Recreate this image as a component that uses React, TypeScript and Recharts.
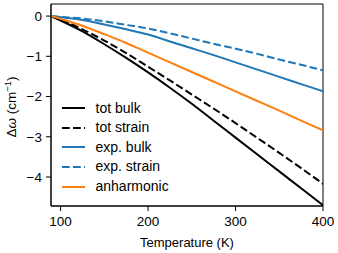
import React from "react";
import {
  Line,
  LineChart,
  ReferenceArea,
  XAxis,
  YAxis,
} from "recharts";

const temperature = [89, 100, 125, 150, 175, 200, 225, 250, 275, 300, 325, 350, 375, 400];
const totBulk = [0, -0.11, -0.38, -0.7, -1.04, -1.4, -1.78, -2.18, -2.6, -3.02, -3.44, -3.86, -4.28, -4.7];
const totStrain = [0, -0.09, -0.33, -0.61, -0.92, -1.26, -1.6, -1.95, -2.3, -2.66, -3.03, -3.4, -3.78, -4.17];
const expBulk = [0, -0.03, -0.1, -0.21, -0.33, -0.46, -0.63, -0.8, -0.97, -1.15, -1.33, -1.51, -1.69, -1.87];
const expStrain = [0, -0.02, -0.06, -0.13, -0.22, -0.31, -0.43, -0.56, -0.69, -0.81, -0.94, -1.08, -1.21, -1.35];
const anharmonic = [0, -0.07, -0.24, -0.45, -0.67, -0.91, -1.15, -1.39, -1.63, -1.87, -2.11, -2.35, -2.6, -2.84];

const xTicks = [100, 200, 300, 400];
const yTicks = [0, -1, -2, -3, -4];

const FONT = "'Liberation Sans', Arial, sans-serif";
const BLUE = "#1f77b4";
const ORANGE = "#ff7f0e";
const DASH = "7.7 3.3";

const series = [
  { key: "totBulk", name: "tot bulk", color: "#000000", dash: undefined },
  { key: "totStrain", name: "tot strain", color: "#000000", dash: DASH },
  { key: "expBulk", name: "exp. bulk", color: BLUE, dash: undefined },
  { key: "expStrain", name: "exp. strain", color: BLUE, dash: DASH },
  { key: "anharmonic", name: "anharmonic", color: ORANGE, dash: undefined },
];

const data = temperature.map((t, i) => ({
  t,
  totBulk: totBulk[i],
  totStrain: totStrain[i],
  expBulk: expBulk[i],
  expStrain: expStrain[i],
  anharmonic: anharmonic[i],
}));

const fmt = (v: number) => String(v).replace("-", "\u2212");

// legend sits inside the plot area, like matplotlib's loc="lower left"
function LegendBox() {
  return (
    <div
      style={{
        position: "absolute",
        left: 62,
        top: 98.5,
        fontFamily: FONT,
        fontSize: 14,
        color: "#000",
        lineHeight: "19.6px",
      }}
    >
      {series.map((s) => (
        <div key={s.key} style={{ display: "flex", alignItems: "center", height: 19.6 }}>
          <svg width={23} height={20} style={{ marginRight: 10.5 }}>
            <line
              x1={0}
              y1={10}
              x2={23}
              y2={10}
              stroke={s.color}
              strokeWidth={2}
              strokeDasharray={s.dash}
            />
          </svg>
          <span>{s.name}</span>
        </div>
      ))}
    </div>
  );
}

function YLabel() {
  return (
    <text
      x={15.5}
      y={107}
      transform="rotate(-90 15.5 107)"
      textAnchor="middle"
      fontFamily={FONT}
      fontSize={13.5}
      fill="#000"
    >
      Δ<tspan fontStyle="italic">ω</tspan> (cm
      <tspan fontSize={9.5} dy={-5}>−1</tspan>
      <tspan dy={5}>)</tspan>
    </text>
  );
}

export default function App() {
  return (
    <div style={{ position: "absolute", left: 0, top: 0, width: 338, height: 253, background: "#fff" }}>
      <LineChart
        width={338}
        height={253}
        data={data}
        margin={{ top: 4, right: 15, bottom: 0, left: 0 }}
      >
        <XAxis
          dataKey="t"
          type="number"
          domain={[89, 400]}
          ticks={xTicks}
          interval={0}
          allowDataOverflow
          height={47}
          tickSize={5}
          tickMargin={5}
          stroke="#000"
          tick={{ fill: "#000", fontSize: 13.5, fontFamily: FONT }}
          label={{
            value: "Temperature (K)",
            position: "insideBottom",
            offset: 6,
            fill: "#000",
            fontSize: 13,
            fontFamily: FONT,
          }}
        />
        <YAxis
          type="number"
          domain={[-4.72, 0.3]}
          ticks={yTicks}
          interval={0}
          allowDataOverflow
          width={51}
          tickSize={5}
          tickMargin={4}
          stroke="#000"
          tickFormatter={fmt}
          tick={{ fill: "#000", fontSize: 13.5, fontFamily: FONT }}
          label={{ content: () => <YLabel /> }}
        />
        <ReferenceArea
          x1={89}
          x2={400}
          y1={-4.72}
          y2={0.3}
          fill="none"
          stroke="#000"
          strokeWidth={1}
        />
        {series.map((s) => (
          <Line
            key={s.key}
            dataKey={s.key}
            name={s.name}
            type="monotone"
            stroke={s.color}
            strokeWidth={2}
            strokeDasharray={s.dash}
            dot={false}
            isAnimationActive={false}
          />
        ))}
      </LineChart>
      <LegendBox />
    </div>
  );
}
